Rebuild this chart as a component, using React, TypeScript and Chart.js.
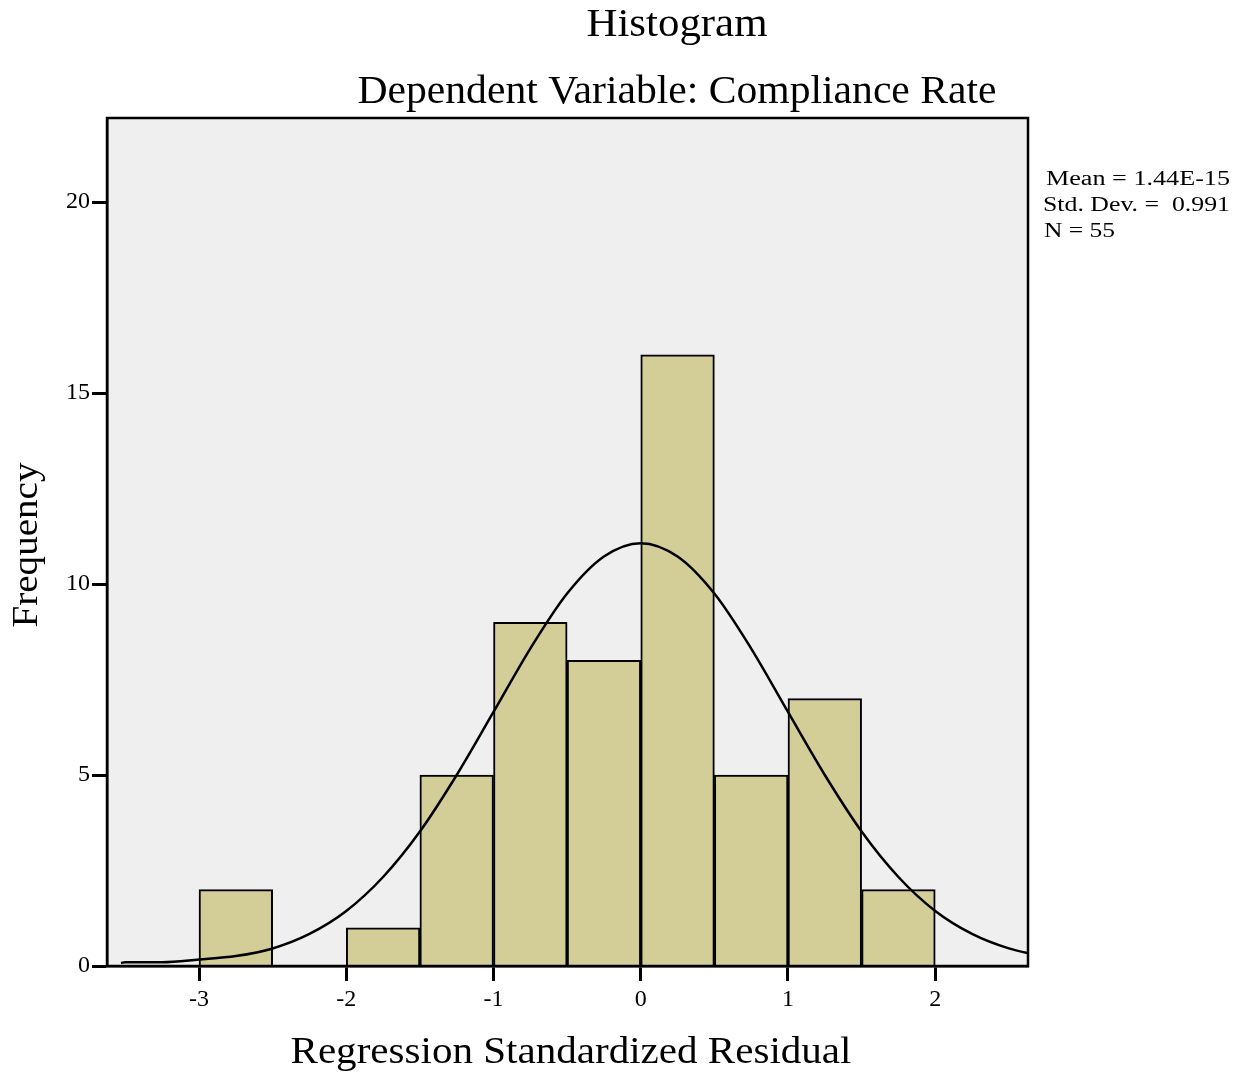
import React, { useEffect, useRef } from "react";
import { Chart, registerables } from "chart.js";

Chart.register(...registerables);

// Histogram bins (bin centers, width 0.5) and frequencies
const binCenters = [-2.75, -1.75, -1.25, -0.75, -0.25, 0.25, 0.75, 1.25, 1.75];
const binCounts = [2, 1, 5, 9, 8, 16, 5, 7, 2];

// Normal curve
const curveX = [-3.53, -3.5, -3.25, -3, -2.75, -2.5, -2.25, -2, -1.75, -1.5, -1.25, -1, -0.75, -0.5, -0.25, 0, 0.25, 0.5, 0.75, 1, 1.25, 1.5, 1.75, 2, 2.25, 2.5, 2.75];
const curveY = [0.08, 0.1, 0.1, 0.17, 0.26, 0.46, 0.84, 1.44, 2.33, 3.52, 5.0, 6.65, 8.31, 9.75, 10.72, 11.07, 10.72, 9.75, 8.31, 6.65, 5.0, 3.52, 2.33, 1.44, 0.84, 0.46, 0.24];

const xTicks = [-3, -2, -1, 0, 1, 2];
const yTicks = [0, 5, 10, 15, 20];

const titleText = "Histogram";
const subtitleText = "Dependent Variable: Compliance Rate";
const xTitle = "Regression Standardized Residual";
const yTitle = "Frequency";
const statsLines = ["Mean = 1.44E-15", "Std. Dev. =  0.991", "N = 55"];

const SERIF = "'Liberation Serif', 'Times New Roman', serif";

function drawFit(
  ctx: CanvasRenderingContext2D,
  text: string,
  x: number,
  y: number,
  size: number,
  width: number,
  align: "center" | "left",
  rotate = 0
) {
  ctx.save();
  ctx.font = `${size}px ${SERIF}`;
  ctx.fillStyle = "#000";
  ctx.textBaseline = "middle";
  ctx.textAlign = align;
  const m = ctx.measureText(text).width;
  ctx.translate(x, y);
  if (rotate) ctx.rotate(rotate);
  ctx.scale(width / m, 1);
  ctx.fillText(text, 0, 0);
  ctx.restore();
}

const decorPlugin = {
  id: "decor",
  beforeDraw(chart: any) {
    const { ctx, chartArea: a } = chart;
    ctx.save();
    ctx.fillStyle = "#fff";
    ctx.fillRect(0, 0, chart.width, chart.height);
    ctx.fillStyle = "#EFEFEF";
    ctx.fillRect(a.left, a.top, a.right - a.left, a.bottom - a.top);
    ctx.restore();
  },
  afterDraw(chart: any) {
    const { ctx, chartArea: a } = chart;
    ctx.save();
    ctx.strokeStyle = "#000";
    ctx.lineWidth = 2.5;
    ctx.strokeRect(a.left, a.top, a.right - a.left, a.bottom - a.top);
    ctx.restore();
    drawFit(ctx, titleText, 677, 26, 39, 181, "center");
    drawFit(ctx, subtitleText, 677, 93, 39, 639, "center");
    drawFit(ctx, xTitle, 571, 1053, 37, 561, "center");
    drawFit(ctx, yTitle, 28, 545, 36, 165, "center", -Math.PI / 2);
    drawFit(ctx, statsLines[0], 1046, 180, 20, 184, "left");
    drawFit(ctx, statsLines[1], 1043, 206, 20, 187, "left");
    drawFit(ctx, statsLines[2], 1044, 232, 20, 71, "left");
  },
};

export default function App() {
  const ref = useRef<HTMLCanvasElement | null>(null);
  useEffect(() => {
    if (!ref.current) return;
    const chart = new Chart(ref.current, {
      type: "bar",
      data: {
        datasets: [
          {
            type: "line",
            data: curveX.map((x, i) => ({ x, y: curveY[i] })),
            borderColor: "#000",
            borderWidth: 2.5,
            pointRadius: 0,
            fill: false,
            cubicInterpolationMode: "monotone",
            order: 0,
          } as any,
          {
            type: "bar",
            data: binCenters.map((x, i) => ({ x, y: binCounts[i] })),
            backgroundColor: "#D3CE98",
            borderColor: "#000",
            borderWidth: 2,
            barPercentage: 1,
            categoryPercentage: 1,
            order: 1,
          } as any,
        ],
      },
      options: {
        animation: false,
        responsive: true,
        maintainAspectRatio: false,
        layout: { padding: { left: 0, right: 214, top: 118, bottom: 0 } },
        plugins: { legend: { display: false }, tooltip: { enabled: false }, title: { display: false } },
        scales: {
          x: {
            type: "linear",
            min: -3.625,
            max: 2.63,
            offset: false,
            afterBuildTicks: (s: any) => {
              s.ticks = xTicks.map((v) => ({ value: v }));
            },
            afterFit: (s: any) => {
              s.height = 106;
            },
            grid: { offset: false, drawOnChartArea: false, drawTicks: true, tickLength: 15, tickColor: "#000", tickWidth: 3 },
            border: { display: true, color: "#000", width: 2.5 },
            ticks: { color: "#000", font: { family: SERIF, size: 24 }, padding: 4, maxRotation: 0 },
          },
          y: {
            type: "linear",
            min: 0,
            max: 22.2,
            afterBuildTicks: (s: any) => {
              s.ticks = yTicks.map((v) => ({ value: v }));
            },
            afterFit: (s: any) => {
              s.width = 107;
            },
            grid: { offset: false, drawOnChartArea: false, drawTicks: true, tickLength: 15, tickColor: "#000", tickWidth: 3 },
            border: { display: true, color: "#000", width: 2.5 },
            ticks: { color: "#000", font: { family: SERIF, size: 24 }, padding: 2 },
          },
        },
      },
      plugins: [decorPlugin],
    } as any);
    return () => chart.destroy();
  }, []);
  return (
    <div style={{ position: "fixed", left: 0, top: 0, width: 1242, height: 1072 }}>
      <canvas ref={ref} />
    </div>
  );
}
